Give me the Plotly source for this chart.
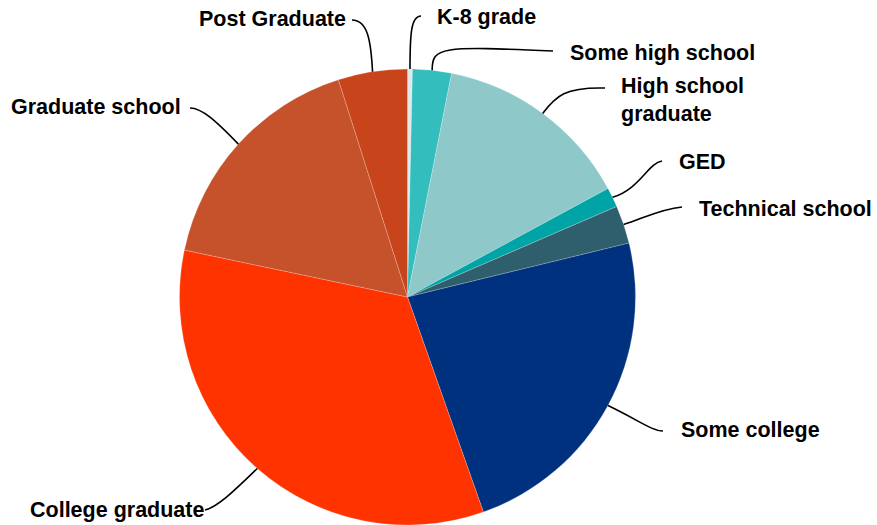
import math
import plotly.graph_objects as go

# Education level shares (percent), clockwise from 12 o'clock
categories = ["K-8 grade", "Some high school", "High school graduate", "GED",
              "Technical school", "Some college", "College graduate",
              "Graduate school", "Post Graduate"]
shares = [0.35, 2.75, 14.0, 1.4, 2.7, 23.4, 33.7, 16.8, 4.9]
colors = ["#dde9ea", "#33bdbd", "#8ec8c9", "#00a4a6", "#2f5f6c",
          "#00317f", "#ff3300", "#c5522a", "#c8451c"]

W, H = 877, 525
CX, CY, R = 407.5, 297.0, 228.0

# label text, anchor x/y (px), xanchor, leader start, two bezier handles (px)
label_layout = {
    "K-8 grade": dict(text="K-8 grade", x=435, y=17, xa="left",
                      s=(421, 16), c1=(411, 16), c2=(410, 34)),
    "Some high school": dict(text="Some high school", x=568, y=53, xa="left",
                             s=(553, 51), c1=(440, 46), c2=(432, 47)),
    "High school graduate": dict(text="High school<br>graduate", x=619, y=100, xa="left",
                                 s=(605, 88), c1=(565, 87), c2=(556, 96)),
    "GED": dict(text="GED", x=677, y=162, xa="left",
                s=(662, 161), c1=(648, 163), c2=(640, 189)),
    "Technical school": dict(text="Technical school", x=697, y=209, xa="left",
                             s=(682, 207), c1=(660, 209), c2=(642, 219)),
    "Some college": dict(text="Some college", x=679, y=430, xa="left",
                         s=(663, 431), c1=(652, 431), c2=(640, 421)),
    "College graduate": dict(text="College graduate", x=28, y=510, xa="left",
                             s=(205, 510), c1=(218, 507), c2=(236, 489)),
    "Graduate school": dict(text="Graduate school", x=183, y=107, xa="right",
                            s=(190, 108), c1=(202, 108), c2=(216, 121)),
    "Post Graduate": dict(text="Post Graduate", x=348, y=19, xa="right",
                          s=(352, 20), c1=(368, 20), c2=(371, 42)),
}


def px(x):
    return x / W


def py(y):
    return 1 - y / H


fig = go.Figure(go.Pie(
    labels=categories,
    values=shares,
    sort=False,
    direction="clockwise",
    rotation=0,
    marker=dict(colors=colors, line=dict(color="rgba(255,255,255,0.35)", width=0.6)),
    textinfo="none",
    hoverinfo="label+percent",
    showlegend=False,
    domain=dict(x=[px(CX - R), px(CX + R)], y=[py(CY + R), py(CY - R)]),
))

# leader lines end on the rim at each slice's mid-angle
total = sum(shares)
cum = 0.0
shapes = []
annotations = []
font = dict(family="Arial, Liberation Sans, sans-serif", size=21.5, color="#000000", weight="bold")
for name, v in zip(categories, shares):
    mid = (cum + v / 2) / total
    cum += v
    th = 2 * math.pi * mid
    ex, ey = CX + R * math.sin(th), CY - R * math.cos(th)
    L = label_layout[name]
    (sx, sy), (ax, ay), (bx, by) = L["s"], L["c1"], L["c2"]
    path = (f"M {px(sx)},{py(sy)} C {px(ax)},{py(ay)} {px(bx)},{py(by)} "
            f"{px(ex)},{py(ey)}")
    shapes.append(dict(type="path", xref="paper", yref="paper", path=path,
                       line=dict(color="#000000", width=1.6), layer="above"))
    annotations.append(dict(text=L["text"], x=px(L["x"]), y=py(L["y"]),
                            xref="paper", yref="paper", xanchor=L["xa"],
                            yanchor="middle", align="left", showarrow=False,
                            font=font))

fig.update_layout(
    width=W, height=H,
    margin=dict(l=0, r=0, t=0, b=0),
    paper_bgcolor="#ffffff",
    plot_bgcolor="#ffffff",
    shapes=shapes,
    annotations=annotations,
)

fig.write_html("out.html")
